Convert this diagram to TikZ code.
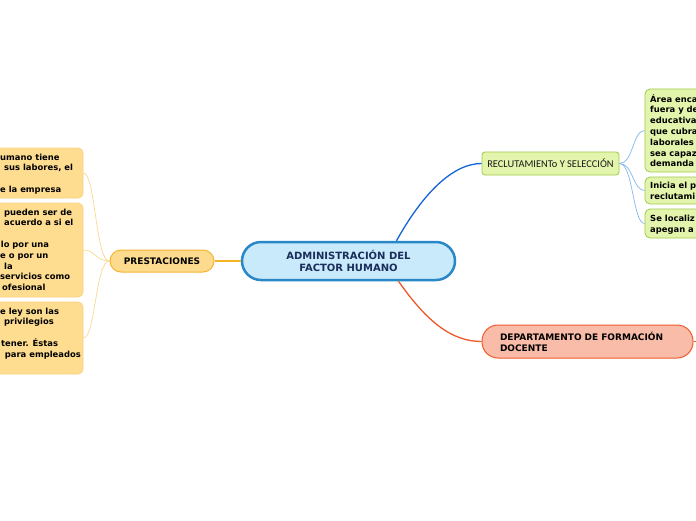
\documentclass[tikz,border=0pt]{standalone}
\usepackage{fontspec}
\setmainfont{DejaVu Sans}
\newfontfamily\calfont{Carlito}
\usetikzlibrary{calc}
\definecolor{rootfill}{HTML}{C8EAFB}
\definecolor{rootdraw}{HTML}{2A88C9}
\definecolor{roottext}{HTML}{1B2D5A}
\definecolor{prestfill}{HTML}{FDDB8E}
\definecolor{prestdraw}{HTML}{F5B532}
\definecolor{leftfill}{HTML}{FEDD91}
\definecolor{leftdraw}{HTML}{FAD27A}
\definecolor{greenfill}{HTML}{E3F5AC}
\definecolor{greendraw}{HTML}{9FCB4A}
\definecolor{depfill}{HTML}{F9BCA8}
\definecolor{depdraw}{HTML}{EF5A2A}
\definecolor{blueline}{HTML}{1565D6}
\definecolor{thinblue}{HTML}{86B6EE}
\definecolor{thinorange}{HTML}{FCD88E}
\definecolor{orangeline}{HTML}{F4B224}
\begin{document}
\begin{tikzpicture}[x=1pt,y=-1pt,
  rootbox/.style={draw=rootdraw,fill=rootfill,line width=2.5pt,rounded corners=19pt,
    minimum width=213pt,minimum height=38pt,align=center,text=roottext,
    font=\bfseries\fontsize{10}{12}\selectfont},
  prestbox/.style={draw=prestdraw,fill=prestfill,line width=1pt,rounded corners=11pt,
    minimum width=104pt,minimum height=22pt,font=\bfseries\fontsize{9}{11}\selectfont},
  leftbox/.style={draw=leftdraw,fill=leftfill,line width=0.8pt,rounded corners=5pt,minimum width=103pt},
  greenbox/.style={draw=greendraw,fill=greenfill,line width=0.8pt,rounded corners=5pt,minimum width=100pt},
  reclbox/.style={draw=greendraw,fill=greenfill,line width=0.8pt,rounded corners=3pt,
    minimum width=137pt,minimum height=23pt,text=black!90,font=\calfont\fontsize{10.4}{12}\selectfont},
  depbox/.style={draw=depdraw,fill=depfill,line width=1pt,rounded corners=16pt,
    minimum width=211pt,minimum height=33pt,text width=175pt,inner xsep=18pt,align=left,
    font=\bfseries\fontsize{9}{11}\selectfont},
  boxtext/.style={inner sep=0pt,anchor=north west,align=left,
    font=\bfseries\fontsize{8.4}{10.8}\selectfont,execute at begin node=\strut},
  thinb/.style={draw=thinblue,line width=0.7pt},
  thino/.style={draw=thinorange,line width=0.7pt}]
\useasboundingbox (0,0) rectangle (696,520);
\clip (0,0) rectangle (696,520);
\fill[white] (0,0) rectangle (696,520);

% central node
\node[rootbox] (root) at (348.5,261) {ADMINISTRACIÓN DEL\\FACTOR HUMANO};

% left branch
\node[prestbox] (prest) at (162,261) {PRESTACIONES};
\node[leftbox,minimum height=50pt] (l1) at (31.5,173) {};
\node[leftbox,minimum height=94pt] (l2) at (31.5,250) {};
\node[leftbox,minimum height=72pt] (l3) at (31.5,338) {};
\node[boxtext] (l1t) at (0,153.6) {umano tiene\\\hspace{4pt}sus labores, el\\[10.8pt]e la empresa};
\node[boxtext] (l2t) at (0,208.6) {\hspace{4pt}pueden ser de\\\hspace{4pt}acuerdo a si el\\[10.8pt]\hspace{0.7pt}lo por una\\e o por un\\\hspace{4pt}la\\servicios como\\\hspace{2pt}ofesional};
\node[boxtext] (l3t) at (0,307.6) {e ley son las\\\hspace{4pt}privilegios\\[10.8pt]\hspace{1pt}tener. Éstas\\\hspace{4.7pt}para empleados};

% right branch
\node[reclbox] (recl) at (550.5,163.5) {RECLUTAMIENTo Y SELECCIÓN};
\node[greenbox,minimum height=83pt] (r1) at (695,130.5) {};
\node[greenbox,minimum height=27pt] (r2) at (695,190.5) {};
\node[greenbox,minimum height=29pt] (r3) at (695,223.5) {};
\node[boxtext] (r1t) at (650,94.2) {Área enca\\fuera y de\\educativa\\que cubra\\laborales\\sea capaz\\demanda};
\node[boxtext] (r2t) at (650,182.2) {Inicia el p\\reclutami};
\node[boxtext] (r3t) at (650,215.2) {Se localiz\\apegan a};

% bottom right
\node[depbox] (dep) at (587.5,341.5) {DEPARTAMENTO DE FORMACIÓN\\DOCENTE};
\coordinate (depend) at (700,341.5);

% connectors
\draw[orangeline,line width=1.5pt] (root.west) -- (prest.east);
\draw[blueline,line width=1.3pt] ([xshift=48pt]root.north) .. controls +(25,-45) and +(-30,0) .. (recl.west);
\draw[depdraw,line width=1.3pt] ([xshift=50pt]root.south) .. controls +(28,40) and +(-30,0) .. (dep.west);
\draw[depdraw,line width=1pt] (dep.east) -- (depend);
\foreach \b in {r1,r2,r3}
  \draw[thinb] (recl.east) .. controls +(14,0) and +(-12,0) .. (\b.west);
\foreach \b in {l1,l2,l3}
  \draw[thino] (prest.west) .. controls +(-14,0) and +(12,0) .. (\b.east);
\end{tikzpicture}
\end{document}
